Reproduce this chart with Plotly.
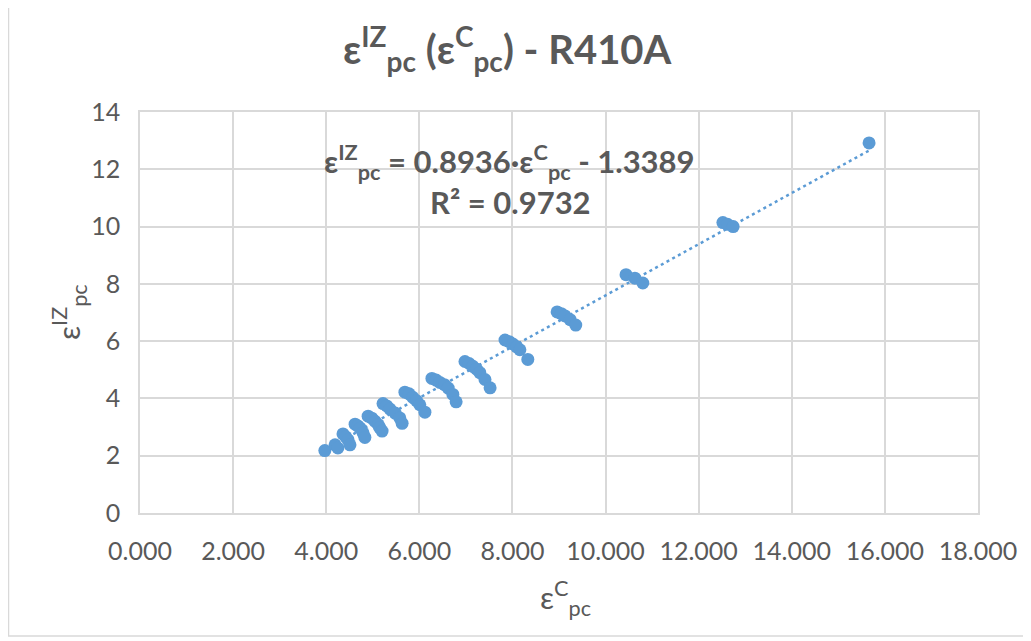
import plotly.graph_objects as go

# ---- data ----
eps_c = [3.97,
         4.19, 4.25,
         4.36, 4.42, 4.47, 4.51,
         4.62, 4.68, 4.73, 4.79, 4.83,
         4.90, 4.98, 5.05, 5.12, 5.15, 5.20,
         5.22, 5.30, 5.37, 5.48, 5.58, 5.63,
         5.69, 5.78, 5.86, 5.94, 6.01, 6.12,
         6.27, 6.36, 6.44, 6.54, 6.62, 6.72, 6.79,
         6.98, 7.07, 7.15, 7.23, 7.30, 7.41, 7.52,
         7.84, 7.93, 8.01, 8.09, 8.16, 8.33,
         8.96, 9.05, 9.13, 9.24, 9.36,
         10.44, 10.63, 10.80,
         12.52, 12.62, 12.74,
         15.66]
eps_iz = [2.18,
          2.38, 2.27,
          2.76, 2.66, 2.55, 2.38,
          3.10, 3.04, 2.96, 2.80, 2.64,
          3.38, 3.31, 3.20, 3.08, 2.98, 2.86,
          3.82, 3.74, 3.63, 3.49, 3.32, 3.13,
          4.22, 4.16, 4.04, 3.92, 3.78, 3.52,
          4.70, 4.64, 4.56, 4.48, 4.36, 4.14, 3.88,
          5.29, 5.22, 5.12, 5.02, 4.90, 4.66, 4.37,
          6.04, 5.98, 5.90, 5.80, 5.70, 5.36,
          7.02, 6.96, 6.88, 6.75, 6.56,
          8.32, 8.20, 8.03,
          10.14, 10.08, 10.00,
          12.92]

# trendline equation printed on the chart
slope = 0.8936
intercept = -1.3389
r2 = 0.9732

x_ticks = [0, 2, 4, 6, 8, 10, 12, 14, 16, 18]
y_ticks = [0, 2, 4, 6, 8, 10, 12, 14]

BLUE = "#5B9BD5"
TXT = "#595959"
GRID = "#D9D9D9"
FONT = "Lato"

x_line = [min(eps_c), max(eps_c)]
y_line = [slope * v + intercept for v in x_line]

fig = go.Figure()
fig.add_trace(go.Scatter(x=x_line, y=y_line, mode="lines",
                         line=dict(color=BLUE, width=2.5, dash="3px,3.5px"),
                         hoverinfo="skip", showlegend=False))
fig.add_trace(go.Scatter(x=eps_c, y=eps_iz, mode="markers",
                         marker=dict(color=BLUE, size=13, line=dict(width=0)),
                         showlegend=False))

# page has an 8px body margin, so the figure is 8px smaller than the window
W, H = 1023, 633
L, T = 132, 104
R = W - 970
B = H - 505
PW, PH = W - L - R, H - T - B


def px(xp):
    return (xp - L) / PW


def py(yp):
    return (H - B - yp) / PH


fig.update_layout(
    width=W, height=H,
    margin=dict(l=L, r=R, t=T, b=B),
    paper_bgcolor="white", plot_bgcolor="white",
    font=dict(family=FONT, color=TXT, size=25),
    showlegend=False,
    xaxis=dict(range=[0, 18], tickvals=x_ticks, tickformat=".3f",
               showgrid=True, gridcolor=GRID, gridwidth=1.5,
               showline=True, mirror=True, linecolor=GRID, linewidth=1.5,
               zeroline=False, ticks="outside", ticklen=15, tickcolor="rgba(0,0,0,0)",
               tickfont=dict(size=25, color=TXT, family=FONT), fixedrange=True),
    yaxis=dict(range=[0, 14], tickvals=y_ticks,
               showgrid=True, gridcolor=GRID, gridwidth=1.5,
               showline=True, mirror=True, linecolor=GRID, linewidth=1.5,
               zeroline=False, ticks="outside", ticklen=13, tickcolor="rgba(0,0,0,0)",
               tickfont=dict(size=25, color=TXT, family=FONT), fixedrange=True),
)

annotations = [
    dict(text="<b>ε<sup>IZ</sup><sub>pc</sub> (ε<sup>C</sup><sub>pc</sub>) - R410A</b>",
         x=px(499), y=py(41), xref="paper", yref="paper", showarrow=False,
         xanchor="center", yanchor="middle",
         font=dict(size=40, color=TXT, family=FONT)),
    dict(text="<b>ε<sup>IZ</sup><sub>pc</sub> = %.4f·ε<sup>C</sup><sub>pc</sub> - %.4f</b>"
         % (slope, -intercept),
         x=px(501), y=py(154), xref="paper", yref="paper", showarrow=False,
         xanchor="center", yanchor="middle",
         font=dict(size=31, color=TXT, family=FONT)),
    dict(text="<b>R² = %.4f</b>" % r2,
         x=px(502), y=py(194), xref="paper", yref="paper", showarrow=False,
         xanchor="center", yanchor="middle",
         font=dict(size=31, color=TXT, family=FONT)),
    dict(text="ε<sup>C</sup><sub>pc</sub>",
         x=px(557), y=py(590), xref="paper", yref="paper", showarrow=False,
         xanchor="center", yanchor="middle",
         font=dict(size=31, color=TXT, family=FONT)),
    dict(text="ε<sup>IZ</sup><sub>pc</sub>",
         x=px(61), y=py(304), xref="paper", yref="paper", showarrow=False,
         xanchor="center", yanchor="middle", textangle=-90,
         font=dict(size=31, color=TXT, family=FONT)),
]
fig.update_layout(annotations=annotations)

# outer chart frame
fig.add_shape(type="rect", xref="paper", yref="paper",
              x0=px(0.5), x1=px(1018), y0=py(628), y1=py(-20),
              line=dict(color=GRID, width=1.5), fillcolor="rgba(0,0,0,0)", layer="below")

fig.write_html("out.html")
